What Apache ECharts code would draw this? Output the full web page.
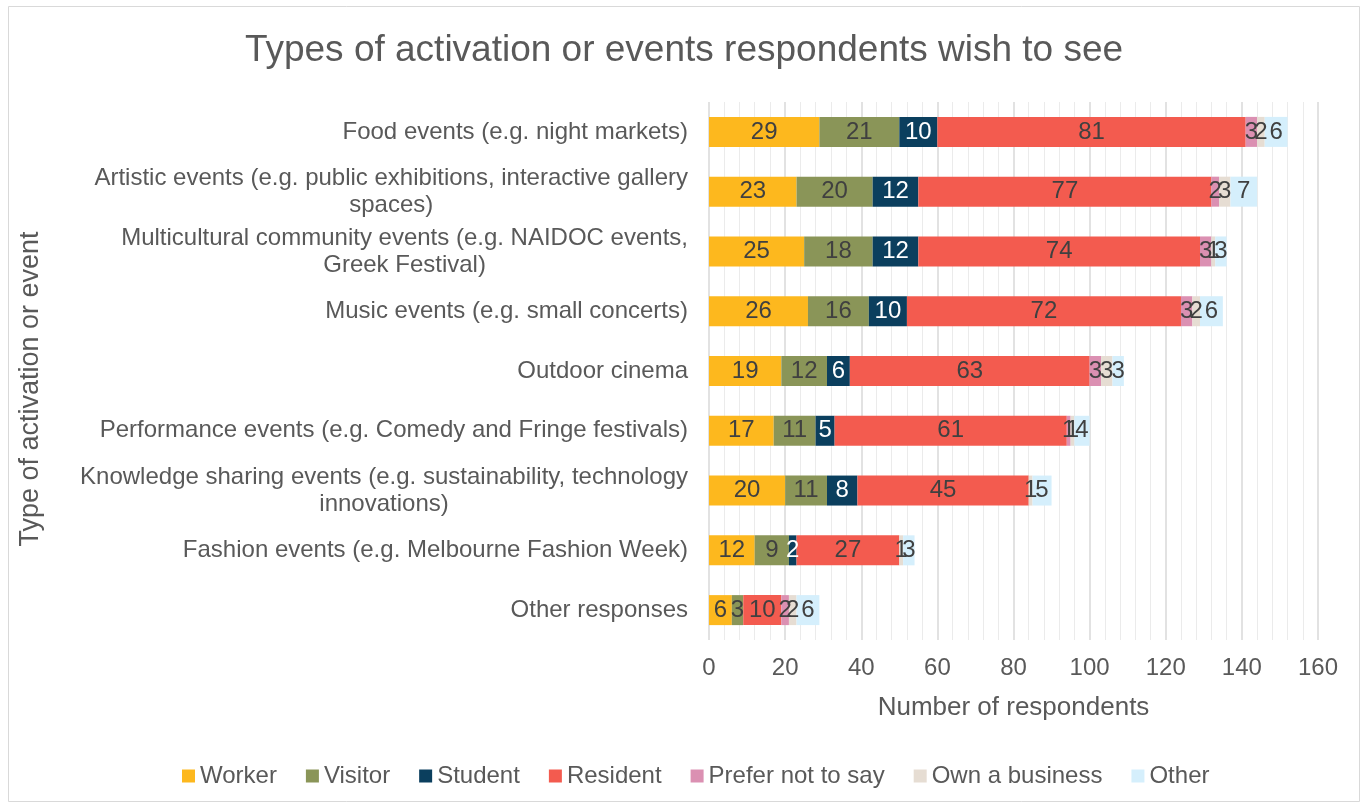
<!DOCTYPE html>
<html>
<head>
<meta charset="utf-8">
<script src="https://cdn.jsdelivr.net/npm/echarts@6/dist/echarts.min.js"></script>
<style>
  html, body { margin: 0; padding: 0; background: #ffffff; }
  #chart { width: 1368px; height: 808px; }
</style>
</head>
<body>
<div id="chart"></div>
<script>
// Event types, top to bottom
const categories = [
  "Food events (e.g. night markets)",
  "Artistic events (e.g. public exhibitions, interactive gallery\nspaces)",
  "Multicultural community events (e.g. NAIDOC events,\nGreek Festival)",
  "Music events (e.g. small concerts)",
  "Outdoor cinema",
  "Performance events (e.g. Comedy and Fringe festivals)",
  "Knowledge sharing events (e.g. sustainability, technology\ninnovations)",
  "Fashion events (e.g. Melbourne Fashion Week)",
  "Other responses"
];

// Respondent counts per group (null = no responses)
const worker        = [29, 23, 25, 26, 19, 17, 20, 12, 6];
const visitor       = [21, 20, 18, 16, 12, 11, 11, 9, 3];
const student       = [10, 12, 12, 10, 6, 5, 8, 2, null];
const resident      = [81, 77, 74, 72, 63, 61, 45, 27, 10];
const preferNotSay  = [3, 2, 3, 3, 3, 1, null, null, 2];
const ownBusiness   = [2, 3, 1, 2, 3, 1, 1, 1, 2];
const other         = [6, 7, 3, 6, 3, 4, 5, 3, 6];

const xTicks = [0, 20, 40, 60, 80, 100, 120, 140, 160];

const groups = [
  { name: "Worker",            data: worker,       color: "#FDB81E", label: "#404040" },
  { name: "Visitor",           data: visitor,      color: "#8A9558", label: "#404040" },
  { name: "Student",           data: student,      color: "#0B3F5E", label: "#ffffff" },
  { name: "Resident",          data: resident,     color: "#F35B4F", label: "#404040" },
  { name: "Prefer not to say", data: preferNotSay, color: "#DB90B2", label: "#404040" },
  { name: "Own a business",    data: ownBusiness,  color: "#E6DDD3", label: "#404040" },
  { name: "Other",             data: other,        color: "#D5EFFC", label: "#404040" }
];

const FONT = "'Liberation Sans', Arial, sans-serif";
const GREY = "#595959";

const chart = echarts.init(document.getElementById("chart"), null, { renderer: "canvas" });

chart.setOption({
  backgroundColor: "#ffffff",
  animation: false,
  textStyle: { fontFamily: FONT },
  graphic: [{
    type: "rect",
    shape: { x: 8.5, y: 6.5, width: 1351, height: 795 },
    style: { fill: "none", stroke: "#d9d9d9", lineWidth: 1 },
    silent: true
  }],
  title: {
    text: "Types of activation or events respondents wish to see",
    left: "center",
    top: 27,
    textStyle: { fontFamily: FONT, fontSize: 37, fontWeight: "normal", color: GREY }
  },
  legend: {
    bottom: 15,
    left: 177,
    itemWidth: 13,
    itemHeight: 13,
    itemGap: 29,
    icon: "rect",
    textStyle: { fontFamily: FONT, fontSize: 24, color: GREY, padding: [0, 0, 0, 0] },
    data: groups.map(g => g.name)
  },
  grid: { left: 709, right: 50, top: 102, bottom: 168, containLabel: false },
  xAxis: {
    type: "value",
    min: xTicks[0],
    max: xTicks[xTicks.length - 1],
    interval: xTicks[1] - xTicks[0],
    name: "Number of respondents",
    nameLocation: "middle",
    nameGap: 55,
    nameTextStyle: { fontFamily: FONT, fontSize: 26, color: GREY },
    axisLine: { show: false },
    axisTick: { show: false },
    axisLabel: { fontFamily: FONT, fontSize: 24, color: GREY, margin: 16 },
    splitLine: { show: true, lineStyle: { color: "#d9d9d9", width: 1.5 } },
    minorTick: { show: false, splitNumber: 5 },
    minorSplitLine: { show: true, lineStyle: { color: "#ebebeb", width: 1 } }
  },
  yAxis: {
    type: "category",
    inverse: true,
    data: categories,
    name: "Type of activation or event",
    nameLocation: "middle",
    nameRotate: 90,
    nameGap: 665,
    nameTextStyle: { fontFamily: FONT, fontSize: 27, color: GREY, padding: [0, 36, 0, 0] },
    axisLine: { show: false },
    axisTick: { show: false },
    axisLabel: {
      margin: 21,
      fontFamily: FONT,
      fontSize: 24,
      color: GREY,
      lineHeight: 27,
      formatter: v => v.split("\n").map(l => "{c|" + l + "}").join("\n"),
      rich: {
        c: { align: "center", fontFamily: FONT, fontSize: 24, color: GREY, lineHeight: 27 }
      }
    },
    splitLine: { show: false }
  },
  series: groups.map(g => ({
    name: g.name,
    type: "bar",
    stack: "total",
    barWidth: 30,
    data: g.data,
    itemStyle: { color: g.color },
    label: {
      show: true,
      position: "inside",
      fontFamily: FONT,
      fontSize: 24,
      color: g.label,
      formatter: p => (p.value ? String(p.value) : "")
    }
  }))
});
</script>
</body>
</html>
